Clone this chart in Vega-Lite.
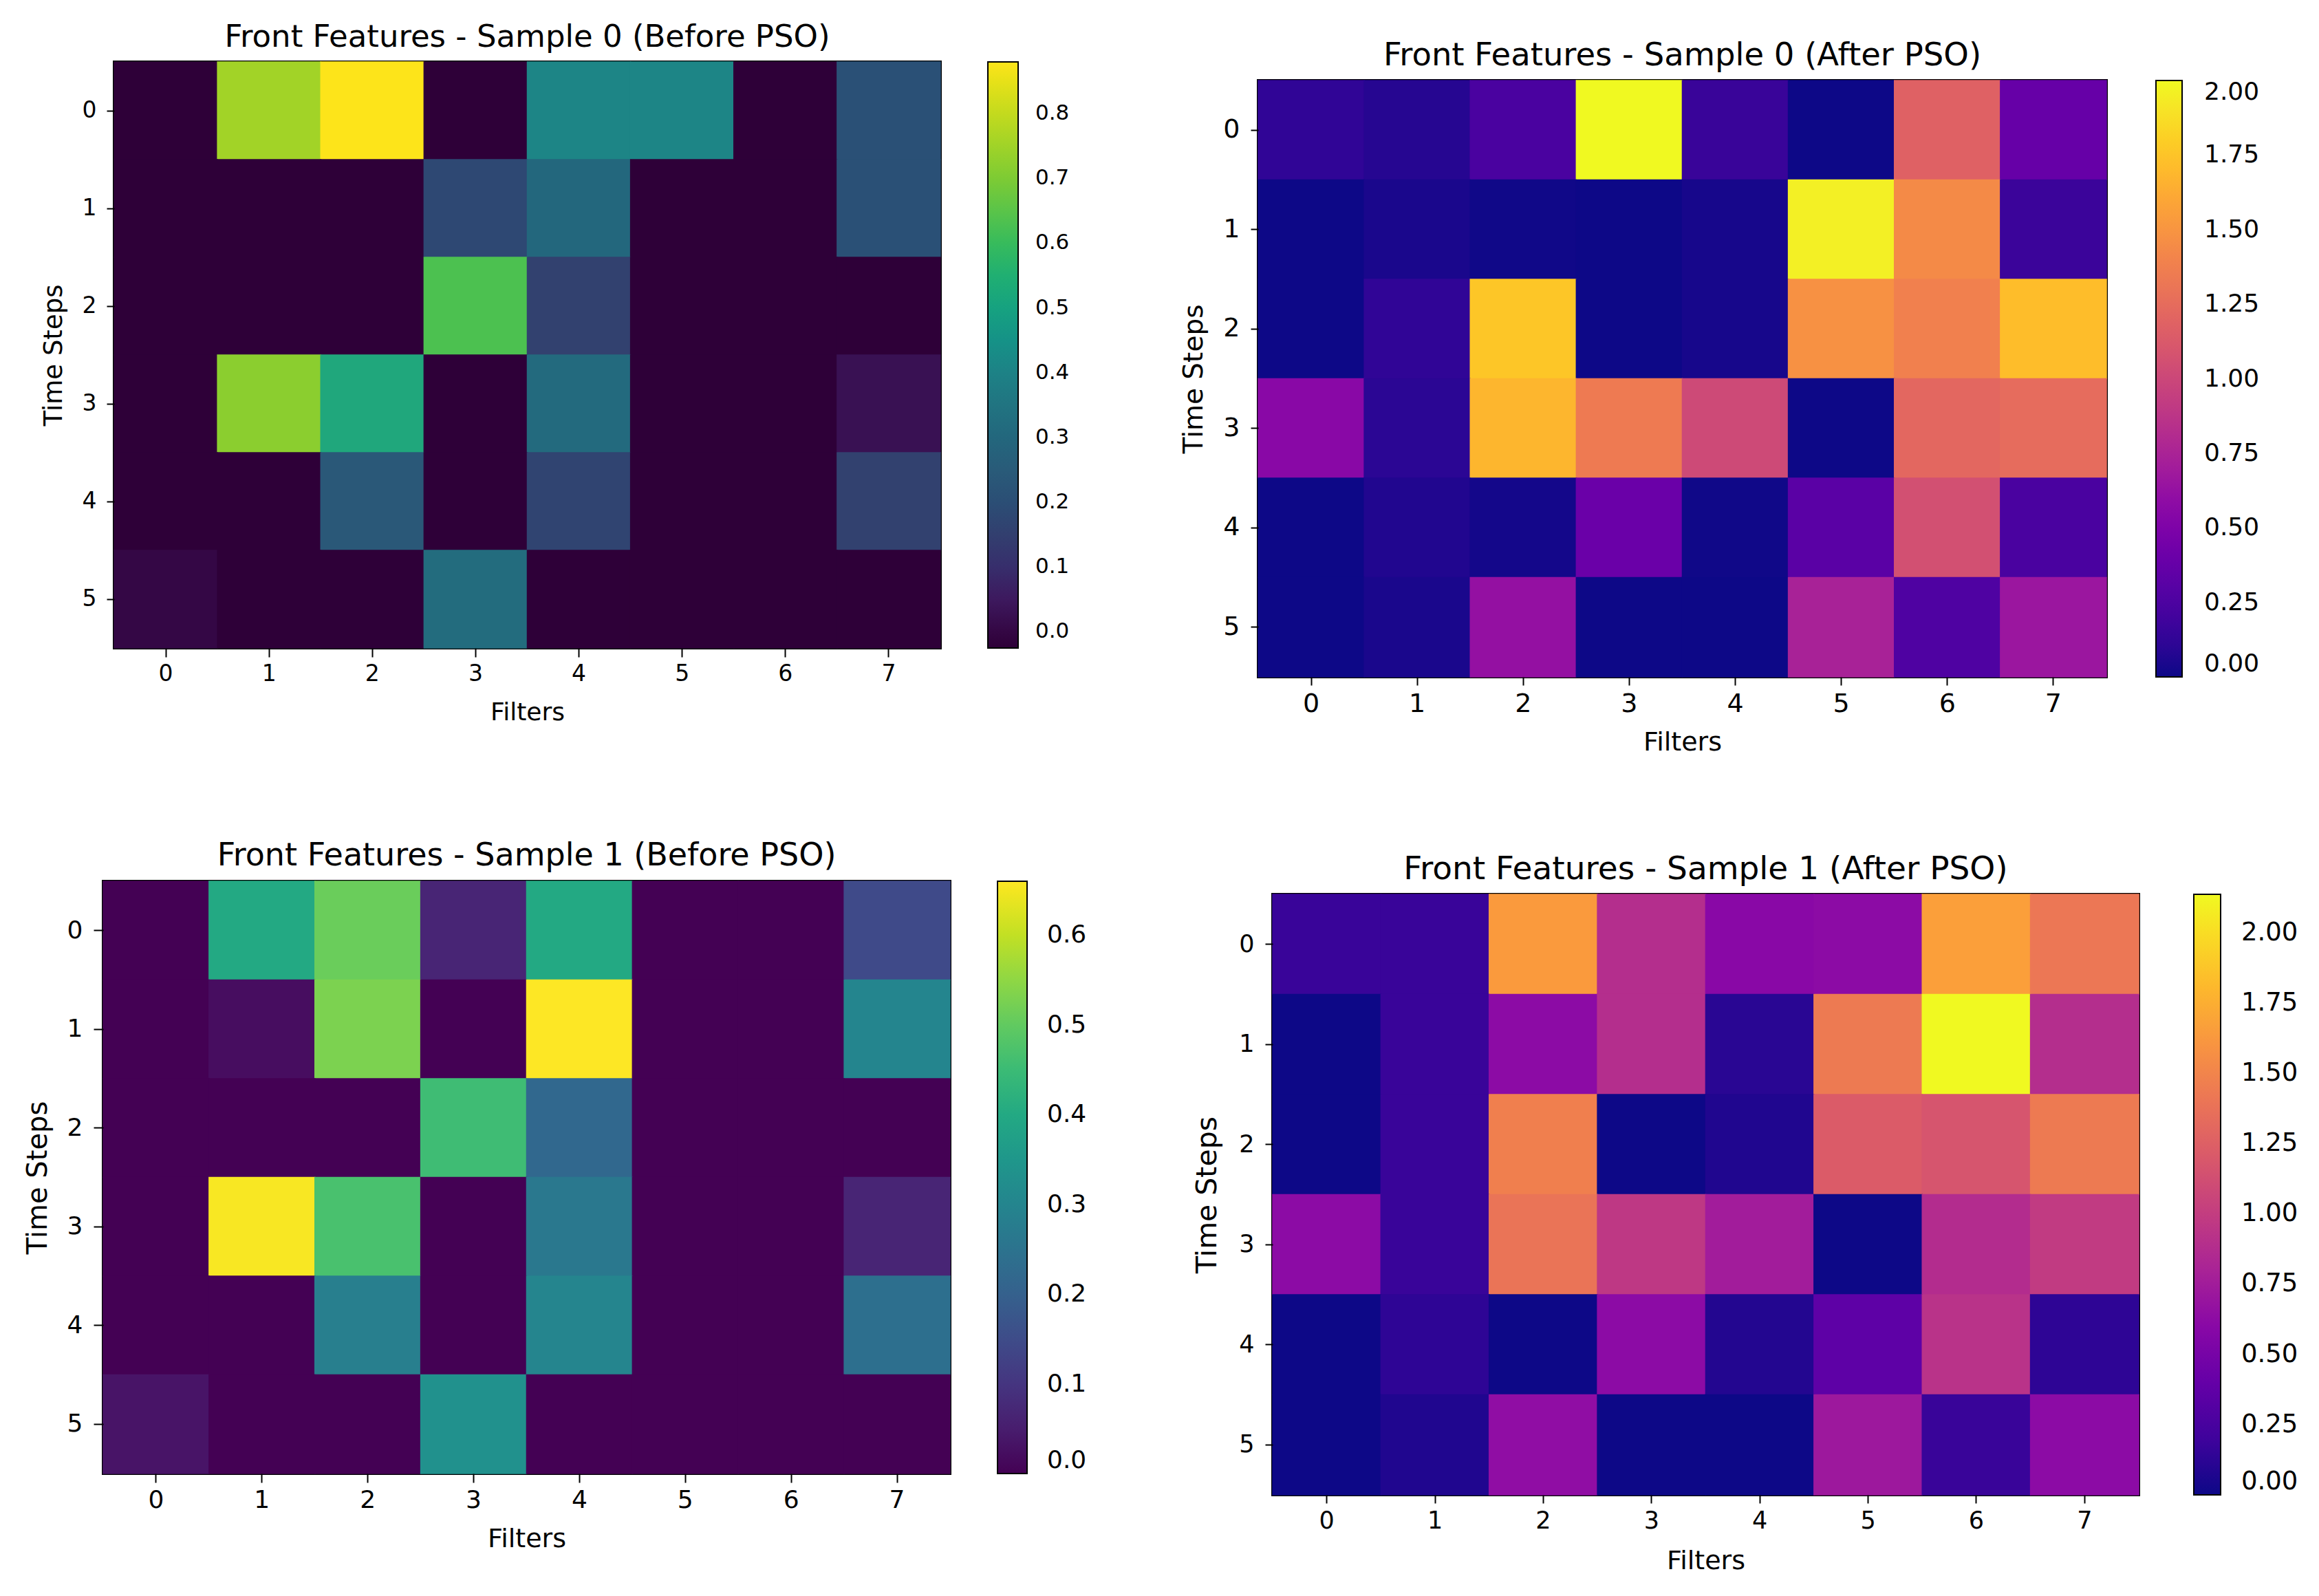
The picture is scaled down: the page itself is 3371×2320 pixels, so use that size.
{
  "$schema": "https://vega.github.io/schema/vega-lite/v6.json",
  "background": "white",
  "padding": {"left": 33, "top": 30, "right": 10, "bottom": 10},
  "datasets": {
    "s0_before": [
      {"t": 0, "f": 0, "v": -0.025}, {"t": 0, "f": 1, "v": 0.753}, {"t": 0, "f": 2, "v": 0.88}, {"t": 0, "f": 3, "v": -0.025},
      {"t": 0, "f": 4, "v": 0.41}, {"t": 0, "f": 5, "v": 0.41}, {"t": 0, "f": 6, "v": -0.025}, {"t": 0, "f": 7, "v": 0.21},
      {"t": 1, "f": 0, "v": -0.025}, {"t": 1, "f": 1, "v": -0.025}, {"t": 1, "f": 2, "v": -0.025}, {"t": 1, "f": 3, "v": 0.18},
      {"t": 1, "f": 4, "v": 0.30}, {"t": 1, "f": 5, "v": -0.025}, {"t": 1, "f": 6, "v": -0.025}, {"t": 1, "f": 7, "v": 0.21},
      {"t": 2, "f": 0, "v": -0.025}, {"t": 2, "f": 1, "v": -0.025}, {"t": 2, "f": 2, "v": -0.025}, {"t": 2, "f": 3, "v": 0.63},
      {"t": 2, "f": 4, "v": 0.155}, {"t": 2, "f": 5, "v": -0.025}, {"t": 2, "f": 6, "v": -0.025}, {"t": 2, "f": 7, "v": -0.025},
      {"t": 3, "f": 0, "v": -0.025}, {"t": 3, "f": 1, "v": 0.72}, {"t": 3, "f": 2, "v": 0.518}, {"t": 3, "f": 3, "v": -0.025},
      {"t": 3, "f": 4, "v": 0.31}, {"t": 3, "f": 5, "v": -0.025}, {"t": 3, "f": 6, "v": -0.025}, {"t": 3, "f": 7, "v": 0.029},
      {"t": 4, "f": 0, "v": -0.025}, {"t": 4, "f": 1, "v": -0.025}, {"t": 4, "f": 2, "v": 0.237}, {"t": 4, "f": 3, "v": -0.025},
      {"t": 4, "f": 4, "v": 0.165}, {"t": 4, "f": 5, "v": -0.025}, {"t": 4, "f": 6, "v": -0.025}, {"t": 4, "f": 7, "v": 0.156},
      {"t": 5, "f": 0, "v": 0.002}, {"t": 5, "f": 1, "v": -0.025}, {"t": 5, "f": 2, "v": -0.025}, {"t": 5, "f": 3, "v": 0.32},
      {"t": 5, "f": 4, "v": -0.025}, {"t": 5, "f": 5, "v": -0.025}, {"t": 5, "f": 6, "v": -0.025}, {"t": 5, "f": 7, "v": -0.025}
    ],
    "s0_after": [
      {"t": 0, "f": 0, "v": 0.12}, {"t": 0, "f": 1, "v": 0.08}, {"t": 0, "f": 2, "v": 0.24}, {"t": 0, "f": 3, "v": 2.0},
      {"t": 0, "f": 4, "v": 0.16}, {"t": 0, "f": 5, "v": 0.0}, {"t": 0, "f": 6, "v": 1.18}, {"t": 0, "f": 7, "v": 0.38},
      {"t": 1, "f": 0, "v": 0.0}, {"t": 1, "f": 1, "v": 0.04}, {"t": 1, "f": 2, "v": 0.01}, {"t": 1, "f": 3, "v": 0.0},
      {"t": 1, "f": 4, "v": 0.03}, {"t": 1, "f": 5, "v": 1.96}, {"t": 1, "f": 6, "v": 1.44}, {"t": 1, "f": 7, "v": 0.17},
      {"t": 2, "f": 0, "v": 0.0}, {"t": 2, "f": 1, "v": 0.12}, {"t": 2, "f": 2, "v": 1.76}, {"t": 2, "f": 3, "v": 0.0},
      {"t": 2, "f": 4, "v": 0.03}, {"t": 2, "f": 5, "v": 1.48}, {"t": 2, "f": 6, "v": 1.38}, {"t": 2, "f": 7, "v": 1.72},
      {"t": 3, "f": 0, "v": 0.56}, {"t": 3, "f": 1, "v": 0.10}, {"t": 3, "f": 2, "v": 1.68}, {"t": 3, "f": 3, "v": 1.34},
      {"t": 3, "f": 4, "v": 1.02}, {"t": 3, "f": 5, "v": 0.0}, {"t": 3, "f": 6, "v": 1.22}, {"t": 3, "f": 7, "v": 1.25},
      {"t": 4, "f": 0, "v": 0.0}, {"t": 4, "f": 1, "v": 0.06}, {"t": 4, "f": 2, "v": 0.02}, {"t": 4, "f": 3, "v": 0.40},
      {"t": 4, "f": 4, "v": 0.01}, {"t": 4, "f": 5, "v": 0.32}, {"t": 4, "f": 6, "v": 1.06}, {"t": 4, "f": 7, "v": 0.24},
      {"t": 5, "f": 0, "v": 0.0}, {"t": 5, "f": 1, "v": 0.04}, {"t": 5, "f": 2, "v": 0.62}, {"t": 5, "f": 3, "v": 0.0},
      {"t": 5, "f": 4, "v": 0.0}, {"t": 5, "f": 5, "v": 0.74}, {"t": 5, "f": 6, "v": 0.26}, {"t": 5, "f": 7, "v": 0.66}
    ],
    "s1_before": [
      {"t": 0, "f": 0, "v": 0.0}, {"t": 0, "f": 1, "v": 0.40}, {"t": 0, "f": 2, "v": 0.51}, {"t": 0, "f": 3, "v": 0.066},
      {"t": 0, "f": 4, "v": 0.40}, {"t": 0, "f": 5, "v": 0.0}, {"t": 0, "f": 6, "v": 0.0}, {"t": 0, "f": 7, "v": 0.145},
      {"t": 1, "f": 0, "v": 0.0}, {"t": 1, "f": 1, "v": 0.02}, {"t": 1, "f": 2, "v": 0.53}, {"t": 1, "f": 3, "v": 0.0},
      {"t": 1, "f": 4, "v": 0.66}, {"t": 1, "f": 5, "v": 0.0}, {"t": 1, "f": 6, "v": 0.0}, {"t": 1, "f": 7, "v": 0.30},
      {"t": 2, "f": 0, "v": 0.0}, {"t": 2, "f": 1, "v": 0.0}, {"t": 2, "f": 2, "v": 0.0}, {"t": 2, "f": 3, "v": 0.455},
      {"t": 2, "f": 4, "v": 0.22}, {"t": 2, "f": 5, "v": 0.0}, {"t": 2, "f": 6, "v": 0.0}, {"t": 2, "f": 7, "v": 0.0},
      {"t": 3, "f": 0, "v": 0.0}, {"t": 3, "f": 1, "v": 0.655}, {"t": 3, "f": 2, "v": 0.47}, {"t": 3, "f": 3, "v": 0.0},
      {"t": 3, "f": 4, "v": 0.265}, {"t": 3, "f": 5, "v": 0.0}, {"t": 3, "f": 6, "v": 0.0}, {"t": 3, "f": 7, "v": 0.066},
      {"t": 4, "f": 0, "v": 0.0}, {"t": 4, "f": 1, "v": 0.0}, {"t": 4, "f": 2, "v": 0.28}, {"t": 4, "f": 3, "v": 0.0},
      {"t": 4, "f": 4, "v": 0.297}, {"t": 4, "f": 5, "v": 0.0}, {"t": 4, "f": 6, "v": 0.0}, {"t": 4, "f": 7, "v": 0.24},
      {"t": 5, "f": 0, "v": 0.033}, {"t": 5, "f": 1, "v": 0.0}, {"t": 5, "f": 2, "v": 0.0}, {"t": 5, "f": 3, "v": 0.33},
      {"t": 5, "f": 4, "v": 0.0}, {"t": 5, "f": 5, "v": 0.0}, {"t": 5, "f": 6, "v": 0.0}, {"t": 5, "f": 7, "v": 0.0}
    ],
    "s1_after": [
      {"t": 0, "f": 0, "v": 0.17}, {"t": 0, "f": 1, "v": 0.17}, {"t": 0, "f": 2, "v": 1.64}, {"t": 0, "f": 3, "v": 0.88},
      {"t": 0, "f": 4, "v": 0.60}, {"t": 0, "f": 5, "v": 0.62}, {"t": 0, "f": 6, "v": 1.67}, {"t": 0, "f": 7, "v": 1.41},
      {"t": 1, "f": 0, "v": 0.0}, {"t": 1, "f": 1, "v": 0.17}, {"t": 1, "f": 2, "v": 0.62}, {"t": 1, "f": 3, "v": 0.88},
      {"t": 1, "f": 4, "v": 0.10}, {"t": 1, "f": 5, "v": 1.43}, {"t": 1, "f": 6, "v": 2.136}, {"t": 1, "f": 7, "v": 0.88},
      {"t": 2, "f": 0, "v": 0.0}, {"t": 2, "f": 1, "v": 0.17}, {"t": 2, "f": 2, "v": 1.47}, {"t": 2, "f": 3, "v": 0.0},
      {"t": 2, "f": 4, "v": 0.06}, {"t": 2, "f": 5, "v": 1.22}, {"t": 2, "f": 6, "v": 1.17}, {"t": 2, "f": 7, "v": 1.43},
      {"t": 3, "f": 0, "v": 0.62}, {"t": 3, "f": 1, "v": 0.17}, {"t": 3, "f": 2, "v": 1.39}, {"t": 3, "f": 3, "v": 0.96},
      {"t": 3, "f": 4, "v": 0.75}, {"t": 3, "f": 5, "v": 0.0}, {"t": 3, "f": 6, "v": 0.87}, {"t": 3, "f": 7, "v": 0.98},
      {"t": 4, "f": 0, "v": 0.0}, {"t": 4, "f": 1, "v": 0.12}, {"t": 4, "f": 2, "v": 0.0}, {"t": 4, "f": 3, "v": 0.62},
      {"t": 4, "f": 4, "v": 0.07}, {"t": 4, "f": 5, "v": 0.36}, {"t": 4, "f": 6, "v": 0.92}, {"t": 4, "f": 7, "v": 0.12},
      {"t": 5, "f": 0, "v": 0.0}, {"t": 5, "f": 1, "v": 0.06}, {"t": 5, "f": 2, "v": 0.64}, {"t": 5, "f": 3, "v": 0.0},
      {"t": 5, "f": 4, "v": 0.0}, {"t": 5, "f": 5, "v": 0.72}, {"t": 5, "f": 6, "v": 0.17}, {"t": 5, "f": 7, "v": 0.62}
    ]
  },
  "concat": [
    {
      "concat": [
        {"width": 16, "height": 1, "data": {"values": []}, "mark": {"type": "point", "opacity": 0}, "encoding": {}},
        {
          "data": {"name": "s0_before"},
          "width": 1201, "height": 852,
          "view": {"stroke": "black", "strokeWidth": 4},
          "title": {"text": "Front Features - Sample 0 (Before PSO)", "fontSize": 45, "offset": 12},
          "mark": {"type": "rect", "width": {"band": 1.01}, "height": {"band": 1.01}},
          "encoding": {
            "x": {"field": "f", "type": "ordinal", "title": "Filters", "scale": {"paddingInner": 0, "paddingOuter": 0},
                  "axis": {"labelFontSize": 33, "titleFontSize": 36, "tickSize": 13, "labelPadding": 8, "titlePadding": 22}},
            "y": {"field": "t", "type": "ordinal", "title": "Time Steps", "scale": {"paddingInner": 0, "paddingOuter": 0},
                  "axis": {"labelFontSize": 33, "titleFontSize": 37, "tickSize": 11, "labelPadding": 15, "titlePadding": 22}},
            "color": {"field": "v", "type": "quantitative",
                      "scale": {"domain": [-0.0255, 0.88], "nice": false, "zero": false,
                                "range": ["#2e0038", "#3f1e66", "#32416f", "#2a5a78", "#23707f", "#1f8a87", "#20a77c", "#3cbd58", "#7ccb34", "#bcd820", "#fde41a"]},
                      "legend": {"title": null, "values": [0, 0.1, 0.2, 0.3, 0.4, 0.5, 0.6, 0.7, 0.8], "format": ".1f",
                                 "gradientLength": 852, "gradientThickness": 44, "offset": 69, "labelOffset": 25, "labelFontSize": 31}}
          }
        },
        {"width": 462, "height": 1, "data": {"values": []}, "mark": {"type": "point", "opacity": 0}, "encoding": {}},
        {
          "concat": [
            {"width": 1, "height": 27, "data": {"values": []}, "mark": {"type": "point", "opacity": 0}, "encoding": {}},
            {
              "data": {"name": "s0_after"},
              "width": 1233, "height": 867,
              "view": {"stroke": "black", "strokeWidth": 4},
              "title": {"text": "Front Features - Sample 0 (After PSO)", "fontSize": 46.5, "offset": 12},
              "mark": {"type": "rect", "width": {"band": 1.01}, "height": {"band": 1.01}},
              "encoding": {
                "x": {"field": "f", "type": "ordinal", "title": "Filters", "scale": {"paddingInner": 0, "paddingOuter": 0},
                      "axis": {"labelFontSize": 38, "titleFontSize": 38, "tickSize": 12, "labelPadding": 8, "titlePadding": 18}},
                "y": {"field": "t", "type": "ordinal", "title": "Time Steps", "scale": {"paddingInner": 0, "paddingOuter": 0},
                      "axis": {"labelFontSize": 38, "titleFontSize": 39, "tickSize": 11, "labelPadding": 16, "titlePadding": 22}},
                "color": {"field": "v", "type": "quantitative",
                          "scale": {"scheme": "plasma", "domain": [0, 2.0], "nice": false, "zero": false},
                          "legend": {"title": null, "values": [0, 0.25, 0.5, 0.75, 1.0, 1.25, 1.5, 1.75, 2.0], "format": ".2f",
                                     "gradientLength": 867, "gradientThickness": 38, "offset": 72, "labelOffset": 32, "labelFontSize": 36}}
              }
            }
          ],
          "columns": 1, "align": "none", "bounds": "flush", "spacing": 0,
          "resolve": {"scale": {"color": "independent"}}
        }
      ],
      "align": "none", "bounds": "flush", "spacing": 0,
      "resolve": {"scale": {"color": "independent"}}
    },
    {
      "concat": [
        {
          "data": {"name": "s1_before"},
          "width": 1231, "height": 861,
          "view": {"stroke": "black", "strokeWidth": 4},
          "title": {"text": "Front Features - Sample 1 (Before PSO)", "fontSize": 46, "offset": 12},
          "mark": {"type": "rect", "width": {"band": 1.01}, "height": {"band": 1.01}},
          "encoding": {
            "x": {"field": "f", "type": "ordinal", "title": "Filters", "scale": {"paddingInner": 0, "paddingOuter": 0},
                  "axis": {"labelFontSize": 36, "titleFontSize": 38, "tickSize": 13, "labelPadding": 8, "titlePadding": 20}},
            "y": {"field": "t", "type": "ordinal", "title": "Time Steps", "scale": {"paddingInner": 0, "paddingOuter": 0},
                  "axis": {"labelFontSize": 36, "titleFontSize": 40, "tickSize": 14, "labelPadding": 16, "titlePadding": 22}},
            "color": {"field": "v", "type": "quantitative",
                      "scale": {"scheme": "viridis", "domain": [0, 0.66], "nice": false, "zero": false},
                      "legend": {"title": null, "values": [0, 0.1, 0.2, 0.3, 0.4, 0.5, 0.6], "format": ".1f",
                                 "gradientLength": 861, "gradientThickness": 43, "offset": 69, "labelOffset": 29, "labelFontSize": 36}}
          }
        },
        {"width": 469, "height": 1, "data": {"values": []}, "mark": {"type": "point", "opacity": 0}, "encoding": {}},
        {
          "concat": [
            {"width": 1, "height": 19, "data": {"values": []}, "mark": {"type": "point", "opacity": 0}, "encoding": {}},
            {
              "data": {"name": "s1_after"},
              "width": 1259, "height": 873,
              "view": {"stroke": "black", "strokeWidth": 4},
              "title": {"text": "Front Features - Sample 1 (After PSO)", "fontSize": 47, "offset": 11},
              "mark": {"type": "rect", "width": {"band": 1.01}, "height": {"band": 1.01}},
              "encoding": {
                "x": {"field": "f", "type": "ordinal", "title": "Filters", "scale": {"paddingInner": 0, "paddingOuter": 0},
                      "axis": {"labelFontSize": 35, "titleFontSize": 38, "tickSize": 12, "labelPadding": 8, "titlePadding": 22}},
                "y": {"field": "t", "type": "ordinal", "title": "Time Steps", "scale": {"paddingInner": 0, "paddingOuter": 0},
                      "axis": {"labelFontSize": 35, "titleFontSize": 41, "tickSize": 11, "labelPadding": 16, "titlePadding": 24}},
                "color": {"field": "v", "type": "quantitative",
                          "scale": {"scheme": "plasma", "domain": [0, 2.136], "nice": false, "zero": false},
                          "legend": {"title": null, "values": [0, 0.25, 0.5, 0.75, 1.0, 1.25, 1.5, 1.75, 2.0], "format": ".2f",
                                     "gradientLength": 873, "gradientThickness": 39, "offset": 80, "labelOffset": 30, "labelFontSize": 37}}
              }
            }
          ],
          "columns": 1, "align": "none", "bounds": "flush", "spacing": 0,
          "resolve": {"scale": {"color": "independent"}}
        }
      ],
      "align": "none", "bounds": "flush", "spacing": 0,
      "resolve": {"scale": {"color": "independent"}}
    }
  ],
  "columns": 1, "align": "none", "bounds": "flush", "spacing": 1191,
  "resolve": {"scale": {"color": "independent"}},
  "config": {
    "font": "DejaVu Sans",
    "view": {"stroke": null},
    "axis": {"grid": false, "domain": false, "tickColor": "black", "tickWidth": 2, "labelColor": "black",
             "titleColor": "black", "titleFontWeight": "normal", "labelAngle": 0},
    "title": {"fontWeight": "normal", "color": "black", "baseline": "alphabetic", "anchor": "middle"},
    "legend": {"padding": 0, "labelColor": "black", "gradientStrokeColor": "black", "gradientStrokeWidth": 2,
               "labelOverlap": false, "direction": "vertical", "orient": "right", "labelBaseline": "middle"}
  }
}
